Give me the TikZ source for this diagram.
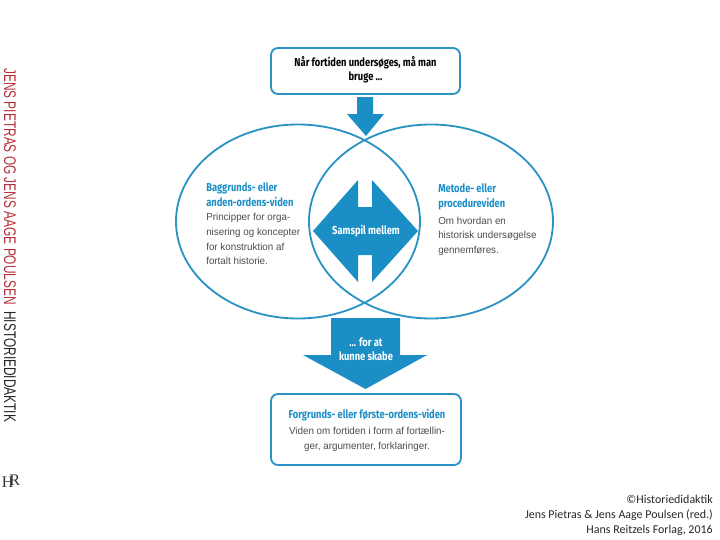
\documentclass[tikz,border=0pt]{standalone}
\usepackage{fontspec}
\setmainfont{Carlito}
\newfontfamily\headfont[FakeStretch=0.81]{Fira Sans}
\newfontfamily\bodyfont[FakeStretch=0.97]{Liberation Sans}
\newfontfamily\sidefont[FakeStretch=0.705]{Liberation Sans}
\newfontfamily\logofont{Liberation Serif}
\usepackage{tikz}
\usetikzlibrary{positioning, calc}
\definecolor{hblue}{HTML}{1B8EC6}
\definecolor{hline}{HTML}{2B93C3}
\definecolor{hred}{HTML}{B5303A}
\begin{document}
\begin{tikzpicture}[x=0.25mm, y=-0.25mm,
    framebox/.style={draw=hline, line width=1.3pt, rounded corners=5pt, fill=white},
    circle line/.style={draw=hline, line width=1.3pt},
    block/.style={fill=hblue},
    head/.style={font=\headfont\bfseries\fontsize{8.2}{10}\selectfont, align=center, inner sep=0pt},
    side head/.style={font=\headfont\bfseries\fontsize{8.2}{11}\selectfont, text=hblue, align=left, anchor=north west, inner sep=0pt},
    side text/.style={font=\bodyfont\fontsize{7.2}{10.4}\selectfont, text=black!70, align=left, anchor=north west, inner sep=0pt},
]
\useasboundingbox (0,0) rectangle (720,540);
% Two overlapping fields
\draw[circle line] (298,221.5) ellipse (122 and 97);
\draw[circle line] (431,221.5) ellipse (122 and 97);
% Block arrows
\fill[block] (357,97) -- (373,97) -- (373,114) -- (384,114) -- (366,136) -- (347,114) -- (357,114) -- cycle;
\fill[block] (358,180) -- (358,207) -- (372,207) -- (372,180) -- (418,231) -- (372,282) -- (372,255) -- (358,255) -- (358,282) -- (313,231) -- cycle;
\fill[block] (331,318) -- (400,318) -- (400,355) -- (427,355) -- (365.5,389) -- (303,355) -- (331,355) -- cycle;
% Top and bottom boxes
\draw[framebox] (271,48) rectangle (460,94);
\draw[framebox] (271,394) rectangle (461,465);
\node[head] (start) at (365.5,69.5) {Når fortiden undersøges, må man\\bruge ...};
\node[head, text=white] (samspil) at (366,231) {Samspil mellem};
\node[head, text=white] (skabe) at (366,349.5) {... for at\\kunne skabe};
% Left field
\node[side head] (baggrund) at (206,182) {Baggrunds- eller\\anden-ordens-viden};
\node[side text, below=4.5pt of baggrund.south west, anchor=north west] (principper) {Principper for orga-\\nisering og koncepter\\for konstruktion af\\fortalt historie.};
% Right field
\node[side head] (metode) at (438,183) {Metode- eller\\procedureviden};
\node[side text, below=4.5pt of metode.south west, anchor=north west] (hvordan) {Om hvordan en\\historisk undersøgelse\\gennemføres.};
% Bottom box text
\node[head, text=hblue] (forgrund) at (367,415.5) {Forgrunds- eller første-ordens-viden};
\node[font=\bodyfont\fontsize{7.2}{10.6}\selectfont, text=black!70, align=center, inner sep=0pt, below=4pt of forgrund] (viden) {Viden om fortiden i form af fortællin-\\ger, argumenter, forklaringer.};
% Margin
\node[font=\sidefont\fontsize{12}{12}\selectfont, rotate=-90, anchor=west, inner sep=0pt, text=hred] (authors) at (10,68) {JENS PIETRAS OG JENS AAGE POULSEN};
\node[font=\sidefont\fontsize{12}{12}\selectfont, rotate=-90, anchor=west, inner sep=0pt, text=black!85] (title) at (10,311) {HISTORIEDIDAKTIK};
\node[font=\logofont\fontsize{11.5}{12}\selectfont, inner sep=0pt, text=black!80] (logo) at (11,481) {H\kern-3pt\raisebox{1.5pt}{R}};
% Credit
\node[font=\fontsize{8.5}{10.8}\selectfont, align=right, anchor=north east, inner sep=0pt, text=black!85] (credit) at (713,494.5) {©Historiedidaktik\\Jens Pietras \& Jens Aage Poulsen (red.)\\Hans Reitzels Forlag, 2016};
\end{tikzpicture}
\end{document}
